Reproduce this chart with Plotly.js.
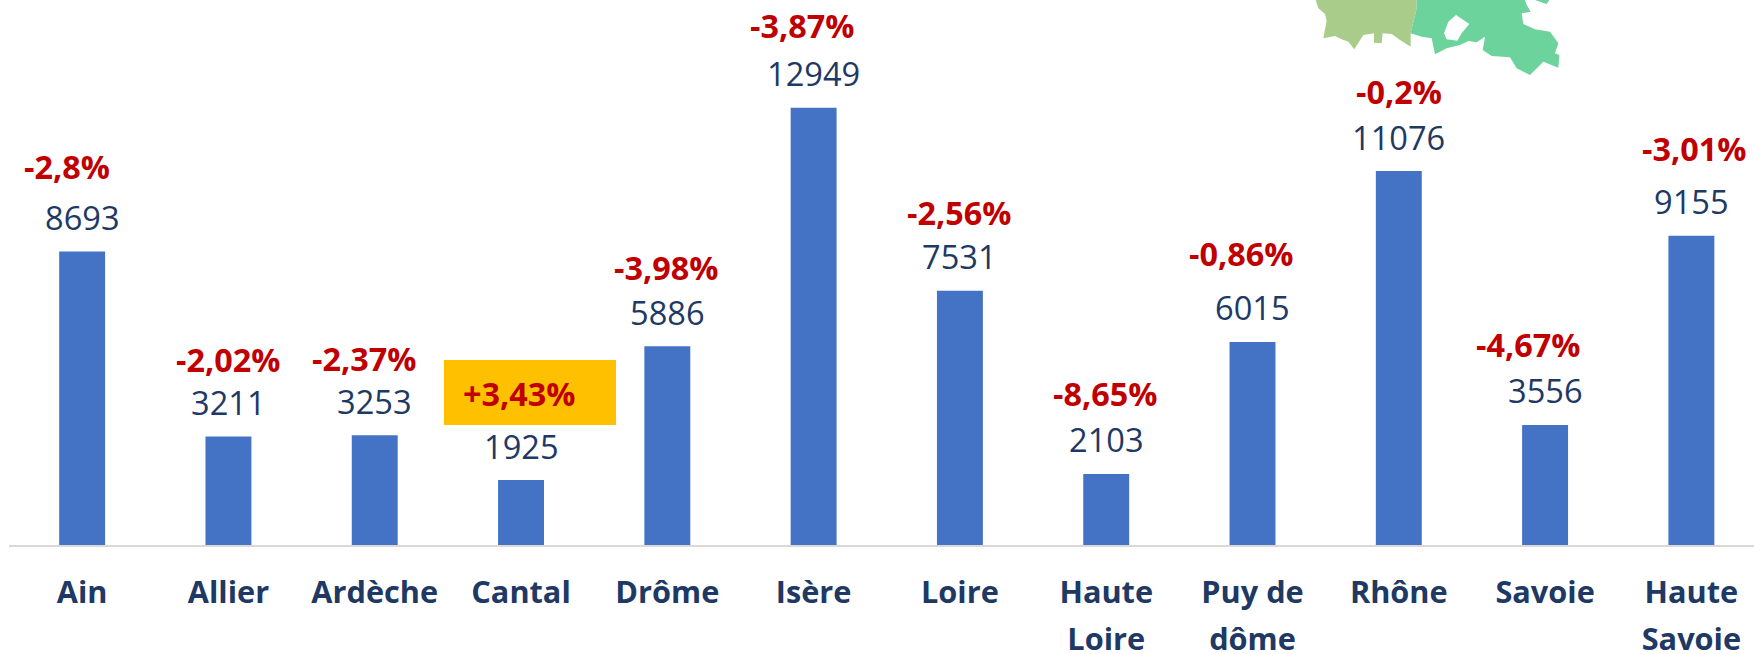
<!DOCTYPE html><html><head><meta charset="utf-8"><script src="https://cdn.plot.ly/plotly-3.0.1.min.js"></script><style>html,body{margin:0;padding:0;background:#fff}</style></head><body><div id="c" style="width:1754px;height:654px"></div><script>
const categories=['Ain','Allier','Ardèche','Cantal','Drôme','Isère','Loire','Haute<br>Loire','Puy de<br>dôme','Rhône','Savoie','Haute<br>Savoie'];
const values=[8693,3211,3253,1925,5886,12949,7531,2103,6015,11076,3556,9155];
const changes=['-2,8%','-2,02%','-2,37%','+3,43%','-3,98%','-3,87%','-2,56%','-8,65%','-0,86%','-0,2%','-4,67%','-3,01%'];
// label placement (pixels relative to bar top centre)
const changeDx=[-15,0,-11,-2,-1,-12,-1,-1,-12,0,-17,3];
const changeDy=[85,78,77,87,79,83,79,81,89,80,81,88];
const valueDy=34;
const font='"Open Sans","Noto Sans",sans-serif';
const W=1745,H=545,L=9;
const pos=categories.map((_,i)=>i);
const valueNotes=values.map((v,i)=>({x:i,y:v,xref:'x',yref:'y',yanchor:'middle',yshift:valueDy,text:String(v),showarrow:false,font:{family:font,size:32.6,color:'#203864'}}));
const changeNotes=changes.map((t,i)=>({x:i,y:values[i],xref:'x',yref:'y',yanchor:'middle',xshift:changeDx[i],yshift:changeDy[i],text:'<b>'+t+'</b>',showarrow:false,font:{family:font,size:32.4,color:'#c00000'}}));
// decorative map fragment, outlines in pixels of a 3x crop at (1300,0)
const mapOlive=[[47,0],[55,25],[75,42],[80,62],[70,115],[105,108],[125,118],[145,125],[163,148],[190,105],[222,100],[222,128],[245,130],[248,100],[275,102],[300,120],[332,140],[332,100],[350,25],[350,0]];
const mapGreen=[[350,0],[350,25],[332,100],[365,110],[395,115],[405,163],[420,155],[440,145],[480,135],[505,123],[530,127],[555,110],[548,150],[575,168],[630,172],[650,205],[690,225],[730,185],[775,203],[778,165],[765,160],[775,130],[750,95],[705,88],[670,72],[665,40],[692,35],[680,15],[675,0]];
const mapHole=[[432,100],[445,65],[468,45],[508,72],[485,100],[472,122],[440,118]];
const mapBit=[[705,0],[740,12],[748,0]];
const sub=p=>'M'+p.map(([a,b])=>(((a/3+1300-L)/W).toFixed(5)+','+((H-b/3)/H).toFixed(5))).join('L')+'Z';
const trace={type:'bar',x:pos,y:values,width:0.314,marker:{color:'#4472c4',line:{width:0}},hoverinfo:'skip'};
Plotly.newPlot('c',[trace],{width:1754,height:654,margin:{l:L,r:0,t:0,b:109},paper_bgcolor:'#fff',plot_bgcolor:'#fff',showlegend:false,
xaxis:{range:[-0.5,11.428],tickmode:'array',tickvals:pos,ticktext:categories.map(c=>'<b><span style="font-size:30.7px">'+c.replace('<br>','</span><br><span style="font-size:30.7px">')+'</span></b>'),tickfont:{family:font,size:35.4,color:'#203864'},showgrid:false,zeroline:false,showline:true,linecolor:'#d9d9d9',linewidth:2,ticks:'',ticklabelstandoff:14},
yaxis:{range:[0,16140],visible:false},
shapes:[
{type:'rect',xref:'paper',yref:'paper',x0:(444-L)/W,x1:(616-L)/W,y0:(H-425)/H,y1:(H-360)/H,fillcolor:'#ffc000',line:{width:0},layer:'below'},
{type:'path',xref:'paper',yref:'paper',path:sub(mapOlive),fillcolor:'#a9cc8a',line:{width:0},layer:'below'},
{type:'path',xref:'paper',yref:'paper',path:sub(mapGreen)+sub(mapHole)+sub(mapBit),fillcolor:'#6bd39b',line:{width:0},layer:'below'}],
annotations:valueNotes.concat(changeNotes)},{staticPlot:true});
</script></body></html>
